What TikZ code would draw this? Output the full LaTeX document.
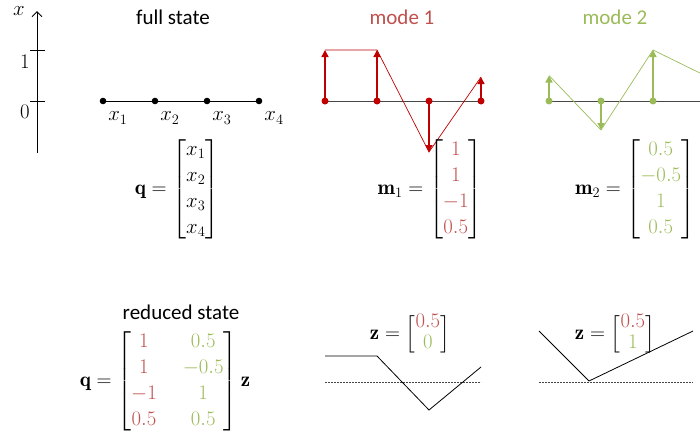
\documentclass[tikz,border=0pt]{standalone}
\usepackage{amsmath}
\usepackage{fontspec}
\newfontfamily\calibri{Carlito}
\usetikzlibrary{arrows.meta,calc}
\definecolor{mred}{RGB}{192,80,77}
\definecolor{dred}{RGB}{192,0,0}
\definecolor{mgreen}{RGB}{155,187,89}
\definecolor{axgray}{RGB}{70,70,70}
\tikzset{
  lbl/.style={font=\calibri\fontsize{21}{26}\selectfont, inner sep=0pt},
  mth/.style={font=\fontsize{21}{26}\selectfont, inner sep=0pt},
  baseline/.style={draw=axgray, line width=1pt},
  redarrow/.style={draw=dred, line width=1.4pt, -{Triangle[length=7pt,width=7pt]}},
  greenarrow/.style={draw=mgreen, line width=1.4pt, -{Triangle[length=7pt,width=7pt]}},
  redshape/.style={draw=dred, line width=0.7pt},
  greenshape/.style={draw=mgreen, line width=0.7pt},
  zshape/.style={draw=black, line width=0.8pt},
  zbase/.style={draw=axgray, line width=0.6pt, dash pattern=on 2pt off 1pt},
}
\begin{document}
\begin{tikzpicture}[x=1pt,y=-1pt]
\useasboundingbox (0,0) rectangle (700,434);
\begin{scope}
\clip (0,0) rectangle (700,434);
% vertical axis
\coordinate (axb) at (37,153);
\coordinate (axt) at (37,11);
\draw[line width=0.9pt, -{Straight Barb[length=5pt,width=10pt]}] (axb) -- (axt);
\coordinate (t1l) at (30,50); \coordinate (t1r) at (45,50);
\coordinate (t0l) at (30,101); \coordinate (t0r) at (45,101);
\draw[line width=0.8pt] (t1l) -- (t1r);
\draw[line width=0.8pt] (t0l) -- (t0r);
\node[mth] (lx) at (19,11) {$x$};
\node[mth] (l1) at (25,62) {$1$};
\node[mth] (l0) at (25,112) {$0$};

% full state
\node[lbl] (fs) at (173,17) {full state};
\foreach \i/\x in {1/103,2/155,3/207,4/259} {
  \coordinate (f\i) at (\x,101);
}
\draw[line width=1pt] (f1) -- (f4);
\foreach \i in {1,...,4} {
  \fill (f\i) circle (3.3pt);
  \node[mth] (fl\i) at ($(f\i)+(15,17)$) {$x_\i$};
}

% mode 1
\node[lbl, text=mred] (m1t) at (402,17) {mode 1};
\foreach \i/\x/\v in {1/325/50,2/377/50,3/429/152,4/481/77} {
  \coordinate (a\i) at (\x,101);
  \coordinate (ta\i) at (\x,\v);
}
\draw[baseline] (a1) -- (a4);
\draw[redshape] (ta1) -- (ta2) -- (ta3) -- (ta4);
\foreach \i in {1,...,4} {
  \draw[redarrow] (a\i) -- (ta\i);
  \fill[dred] (a\i) circle (3.5pt);
}

% mode 2
\node[lbl, text=mgreen] (m2t) at (615,17) {mode 2};
\foreach \i/\x/\v in {1/549/75.5,2/601/130,3/653/50,4/705/75.5} {
  \coordinate (b\i) at (\x,101);
  \coordinate (tb\i) at (\x,\v);
}
\draw[baseline] (b1) -- (b4);
\draw[greenshape] (tb1) -- (tb2) -- (tb3) -- (tb4);
\foreach \i in {1,...,4} {
  \draw[greenarrow] (b\i) -- (tb\i);
  \fill[mgreen] (b\i) circle (3.5pt);
}

% matrices
\node[mth] (qm) at (177,189) {$\mathbf{q} = \begin{bmatrix} x_1\\ x_2\\ x_3\\ x_4\end{bmatrix}$};
\node[mth] (m1m) at (430,189) {$\mathbf{m}_1 = \begin{bmatrix} \color{mred}1\\ \color{mred}1\\ \color{mred}-1\\ \color{mred}0.5\end{bmatrix}$};
\node[mth] (m2m) at (635,189) {$\mathbf{m}_2 = \begin{bmatrix} \color{mgreen}0.5\\ \color{mgreen}-0.5\\ \color{mgreen}1\\ \color{mgreen}0.5\end{bmatrix}$};

% reduced state
\node[lbl] (rs) at (181,312) {reduced state};
\node[mth] (qz) at (165,381) {$\setlength{\arraycolsep}{13pt}\mathbf{q} = \begin{bmatrix} \color{mred}1 & \color{mgreen}0.5\\ \color{mred}1 & \color{mgreen}-0.5\\ \color{mred}-1 & \color{mgreen}1\\ \color{mred}0.5 & \color{mgreen}0.5\end{bmatrix}\mathbf{z}$};

% z = [0.5; 0]
\node[mth] (z1) at (410,334) {$\renewcommand{\arraystretch}{0.8}\mathbf{z} = \Bigl[\begin{matrix} \color{mred}0.5\\ \color{mgreen}0\end{matrix}\Bigr]$};
\coordinate (c1) at (325,356); \coordinate (c2) at (377,356);
\coordinate (c3) at (429,410); \coordinate (c4) at (481,367);
\coordinate (cb1) at (325,382); \coordinate (cb2) at (481,382);
\draw[zbase] (cb1) -- (cb2);
\draw[zshape] (c1) -- (c2) -- (c3) -- (c4);

% z = [0.5; 1]
\node[mth] (z2) at (615,334) {$\renewcommand{\arraystretch}{0.8}\mathbf{z} = \Bigl[\begin{matrix} \color{mred}0.5\\ \color{mgreen}1\end{matrix}\Bigr]$};
\coordinate (d1) at (539,331); \coordinate (d2) at (589,381);
\coordinate (d3) at (693,331);
\coordinate (db1) at (539,382); \coordinate (db2) at (693,382);
\draw[zbase] (db1) -- (db2);
\draw[zshape] (d1) -- (d2) -- (d3);
\end{scope}
\end{tikzpicture}
\end{document}
